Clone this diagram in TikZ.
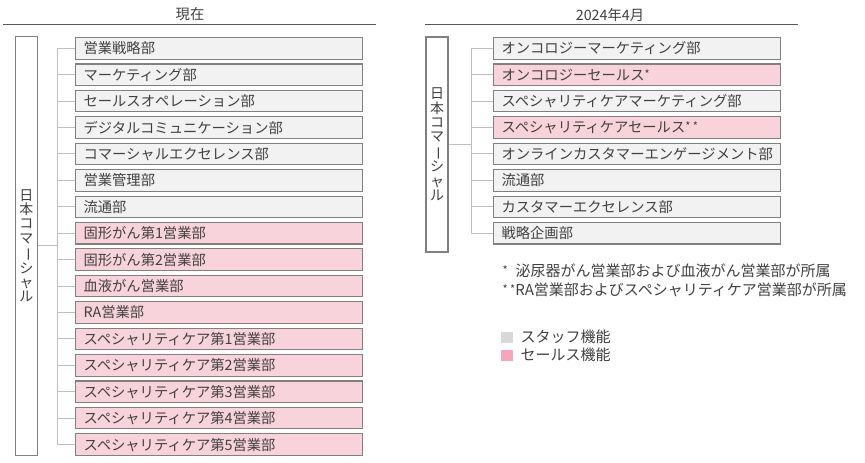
\documentclass[tikz,border=0pt]{standalone}
\usepackage{fontspec}
\setmainfont{Noto Sans CJK JP}
\definecolor{textc}{HTML}{404040}
\definecolor{boxline}{HTML}{808080}
\definecolor{stafffill}{HTML}{F2F2F2}
\definecolor{salesfill}{HTML}{F9D3DC}
\definecolor{legstaff}{HTML}{D9D9D9}
\definecolor{legsales}{HTML}{F4A7B9}
\definecolor{connc}{HTML}{BFBFBF}
\definecolor{headline}{HTML}{595959}
\newcommand{\smast}{\raisebox{0.12em}{\fontsize{11}{11}\selectfont *}}
\newcommand{\vbar}{\rotatebox[origin=c]{-90}{ー}}
\tikzset{
  x=1pt, y=-1pt,
  every node/.style={text=textc, font=\fontsize{14.3}{16}\selectfont},
  dept/.style={draw=boxline, line width=1.1pt, anchor=north west, minimum height=21.5pt,
    inner xsep=8pt, inner ysep=0pt, text width=271pt, align=left},
  staff/.style={dept, fill=stafffill},
  sales/.style={dept, fill=salesfill},
  vbox/.style={draw=boxline, line width=1.1pt, fill=white, inner sep=0pt, align=center,
    font=\fontsize{14}{14.3}\selectfont},
  conn/.style={draw=connc, line width=1pt},
  header/.style={draw=headline, line width=1pt},
  legsq/.style={minimum width=12pt, minimum height=11pt, inner sep=0pt},
  note/.style={anchor=west, font=\fontsize{15}{17}\selectfont},
}
\begin{document}
\begin{tikzpicture}
\useasboundingbox (0,0) rectangle (865,463);

% ---------------- Left: 現在 ----------------
\node (LH) at (190,14) {現在};
\coordinate (LHa) at (3,24);
\coordinate (LHb) at (376,24);
\draw[header] (LHa) -- (LHb);

\node[vbox, minimum width=21.5pt, minimum height=418.5pt] (LV) at (26.5,245.8)
  {日\\本\\コ\\マ\\\vbar\\シ\\ャ\\ル};

\coordinate (LT) at (57,245.8);
\foreach \t/\s [count=\i] in {
  営業戦略部/staff, マーケティング部/staff, セールスオペレーション部/staff,
  デジタルコミュニケーション部/staff, コマーシャルエクセレンス部/staff,
  営業管理部/staff, 流通部/staff, 固形がん第1営業部/sales, 固形がん第2営業部/sales,
  血液がん営業部/sales, RA営業部/sales, スペシャリティケア第1営業部/sales,
  スペシャリティケア第2営業部/sales, スペシャリティケア第3営業部/sales,
  スペシャリティケア第4営業部/sales, スペシャリティケア第5営業部/sales}
{
  \node[\s] (L\i) at (75,{37+(\i-1)*26.42}) {\t};
  \draw[conn] (L\i.west) -- (L\i.west -| LT);
}
\draw[conn] (L1.west -| LT) -- (L16.west -| LT);
\draw[conn] (LV.east) -- (LT);

% ---------------- Right: 2024年4月 ----------------
\node (RH) at (610,15) {2024年4月};
\coordinate (RHa) at (425,24);
\coordinate (RHb) at (798,24);
\draw[header] (RHa) -- (RHb);

\node[vbox, minimum width=22pt, minimum height=215pt] (RV) at (437,144.5)
  {日\\本\\コ\\マ\\\vbar\\シ\\ャ\\ル};

\coordinate (RT) at (471,144.5);
\foreach \t/\s [count=\i] in {
  オンコロジーマーケティング部/staff, オンコロジーセールス\smast/sales,
  スペシャリティケアマーケティング部/staff, スペシャリティケアセールス\smast\,\smast/sales,
  オンラインカスタマーエンゲージメント部/staff, 流通部/staff,
  カスタマーエクセレンス部/staff, 戦略企画部/staff}
{
  \node[\s] (R\i) at (493,{37+(\i-1)*26.42}) {\t};
  \draw[conn] (R\i.west) -- (R\i.west -| RT);
}
\draw[conn] (R1.west -| RT) -- (R8.west -| RT);
\draw[conn] (RV.east) -- (RT);

% ---------------- Footnotes ----------------
\node[note] (F1) at (499,271)
  {\smast\hspace{8pt}泌尿器がん営業部および血液がん営業部が所属};
\node[note] (F2) at (499,290)
  {\smast\,\smast\hspace{0pt}RA営業部およびスペシャリティケア営業部が所属};

% ---------------- Legend ----------------
\node[legsq, fill=legstaff] (G1) at (507,337) {};
\node[note] (G1t) at (517,337) {スタッフ機能};
\node[legsq, fill=legsales] (G2) at (507,355) {};
\node[note] (G2t) at (517,355) {セールス機能};
\end{tikzpicture}
\end{document}
